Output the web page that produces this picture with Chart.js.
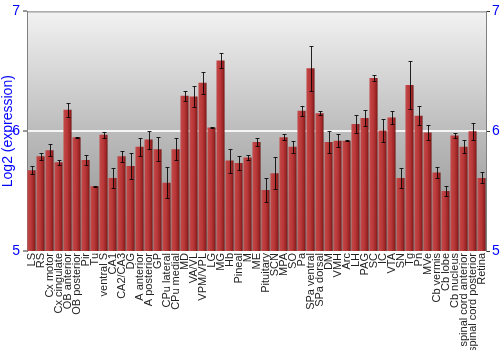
<!DOCTYPE html>
<html>
<head>
<meta charset="utf-8">
<script src="https://cdn.jsdelivr.net/npm/chart.js@4"></script>
<style>
  html, body { margin: 0; padding: 0; background: #fff; }
  #wrap { width: 500px; height: 350px; }
</style>
</head>
<body>
<div id="wrap"><canvas id="c"></canvas></div>
<script>
// 領域ごとの発現量 (log2) と誤差
const regions = [
  'LS', 'RS', 'Cx motor', 'Cx cingulate', 'OB anterior', 'OB posterior', 'Pir', 'Tu',
  'ventral S', 'CA1', 'CA2/CA3', 'DG', 'A anterior', 'A posterior', 'GP', 'CPu lateral',
  'CPu medial', 'MD', 'VA/VL', 'VPM/VPL', 'LG', 'MG', 'Hb', 'Pineal', 'M', 'ME',
  'Pituitary', 'SCN', 'MPA', 'SO', 'Pa', 'SPa ventral', 'SPa dorsal', 'DM', 'VMH', 'Arc',
  'LH', 'PAG', 'SC', 'IC', 'VTA', 'SN', 'Tg', 'Pn', 'MVe', 'Cb vermis', 'Cb lobe',
  'Cb nucleus', 'spinal cord anterior', 'spinal cord posterior', 'Retina',
];

const expression = [
  5.675, 5.79, 5.84, 5.74, 6.18, 5.95, 5.76, 5.54,
  5.97, 5.61, 5.79, 5.71, 5.87, 5.93, 5.85, 5.57,
  5.85, 6.295, 6.29, 6.405, 6.03, 6.59, 5.755, 5.735, 5.78, 5.91,
  5.51, 5.65, 5.95, 5.87, 6.17, 6.525, 6.15, 5.91, 5.92, 5.92,
  6.06, 6.11, 6.445, 6.005, 6.115, 5.61, 6.385, 6.13, 5.99, 5.655, 5.5,
  5.965, 5.87, 6.0, 5.61,
];

const errors = [
  0.036, 0.03, 0.05, 0.018, 0.058, 0.005, 0.043, 0.003,
  0.025, 0.08, 0.043, 0.105, 0.075, 0.075, 0.1, 0.13,
  0.09, 0.04, 0.09, 0.093, 0.004, 0.06, 0.1, 0.058, 0.024, 0.036,
  0.1, 0.133, 0.024, 0.05, 0.044, 0.19, 0.015, 0.09, 0.053, 0.004,
  0.072, 0.068, 0.022, 0.096, 0.057, 0.083, 0.2, 0.08, 0.065, 0.046, 0.043,
  0.018, 0.053, 0.07, 0.046,
];

const yTicks = [5, 6, 7];

const FONT = '"Liberation Sans", Arial, sans-serif';
const BLUE = '#0000ff';

// 背景のグラデーションと上枠
const backdrop = {
  id: 'backdrop',
  beforeDraw(chart) {
    const { ctx, chartArea: a } = chart;
    const g = ctx.createLinearGradient(0, a.top, 0, a.bottom);
    g.addColorStop(0, '#f2f2f2');
    g.addColorStop(0.5, '#bcbcbc');
    g.addColorStop(1, '#8c8c8c');
    ctx.save();
    ctx.fillStyle = g;
    ctx.fillRect(a.left, a.top, a.right - a.left, a.bottom - a.top);
    ctx.restore();
  },
  afterDraw(chart) {
    const { ctx, chartArea: a } = chart;
    ctx.save();
    ctx.strokeStyle = '#808080';
    ctx.lineWidth = 1;
    ctx.beginPath();
    ctx.moveTo(a.left, a.top + 0.5);
    ctx.lineTo(a.right, a.top + 0.5);
    ctx.stroke();
    ctx.restore();
  },
};

// 誤差棒
const errorBars = {
  id: 'errorBars',
  afterDatasetsDraw(chart) {
    const { ctx } = chart;
    const y = chart.scales.y;
    const meta = chart.getDatasetMeta(0);
    ctx.save();
    ctx.strokeStyle = 'rgba(0,0,0,0.85)';
    ctx.lineWidth = 1;
    meta.data.forEach((bar, i) => {
      const x = Math.round(bar.x) + 0.5;
      const t = Math.round(y.getPixelForValue(expression[i] + errors[i])) + 0.5;
      const b = Math.round(y.getPixelForValue(expression[i] - errors[i])) + 0.5;
      ctx.beginPath();
      ctx.moveTo(x, t); ctx.lineTo(x, b);
      ctx.moveTo(x - 2, t); ctx.lineTo(x + 2, t);
      ctx.moveTo(x - 2, b); ctx.lineTo(x + 2, b);
      ctx.stroke();
    });
    ctx.restore();
  },
};

// 棒の横方向グラデーション（左が明るく右端が暗い）
function barFill(context) {
  const chart = context.chart;
  const xs = chart.scales && chart.scales.x;
  if (!chart.chartArea || !xs) return '#b02a2a';
  const cx = xs.getPixelForValue(context.dataIndex);
  const w = (xs.width / regions.length) * 0.9;
  if (!isFinite(cx) || !isFinite(w)) return '#b02a2a';
  const g = chart.ctx.createLinearGradient(cx - w / 2, 0, cx + w / 2, 0);
  g.addColorStop(0, '#c44a4a');
  g.addColorStop(0.5, '#b73636');
  g.addColorStop(0.85, '#962222');
  g.addColorStop(1, '#6a1414');
  return g;
}

new Chart(document.getElementById('c'), {
  type: 'bar',
  data: {
    labels: regions,
    datasets: [{
      data: expression,
      backgroundColor: barFill,
      borderWidth: 0,
      barPercentage: 0.9,
      categoryPercentage: 1,
    }],
  },
  options: {
    responsive: true,
    maintainAspectRatio: false,
    animation: false,
    layout: { padding: { top: 10, right: 0, left: 0, bottom: 0 } },
    plugins: { legend: { display: false }, tooltip: { enabled: false } },
    scales: {
      x: {
        grid: { display: false, drawTicks: false },
        border: { display: false },
        ticks: {
          autoSkip: false, minRotation: 90, maxRotation: 90, padding: 2,
          color: '#222', font: { family: FONT, size: 11 },
        },
        afterFit: s => { s.height = 99; },
      },
      y: {
        min: 5, max: 7,
        afterBuildTicks: s => { s.ticks = yTicks.map(v => ({ value: v })); },
        grid: {
          color: c => (c.tick && c.tick.value === 6 ? 'rgba(255,255,255,0.85)' : 'rgba(0,0,0,0)'),
          lineWidth: 2, tickLength: 4, tickColor: '#333', tickWidth: 1,
        },
        border: { display: true, color: '#808080' },
        ticks: { color: BLUE, padding: 3, font: { family: FONT, size: 14 } },
        title: { display: true, text: 'Log2 (expression)', color: BLUE, padding: 0, font: { family: FONT, size: 14 } },
        afterFit: s => { s.width = 27; },
      },
      y2: {
        position: 'right',
        min: 5, max: 7,
        afterBuildTicks: s => { s.ticks = yTicks.map(v => ({ value: v })); },
        grid: { drawOnChartArea: false, tickLength: 4, tickColor: '#333' },
        border: { display: true, color: '#808080' },
        ticks: { color: BLUE, padding: 2, font: { family: FONT, size: 14 } },
        afterFit: s => { s.width = 14; },
      },
    },
  },
  plugins: [backdrop, errorBars],
});
</script>
</body>
</html>
